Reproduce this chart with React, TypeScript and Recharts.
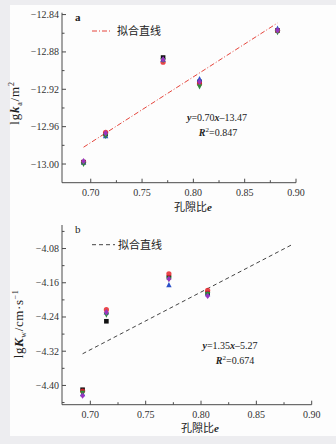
import React from "react";
import { ComposedChart, Scatter, XAxis, YAxis } from "recharts";

// panel a: lg k_a vs void ratio
const voidA = [0.693, 0.7145, 0.7705, 0.806, 0.882];
const kaSquare = [-12.998, -12.968, -12.886, -12.912, -12.857];
const kaCircle = [-12.998, -12.966, -12.891, -12.914, -12.857];
const kaUp = [-12.998, -12.97, -12.888, -12.909, -12.855];
const kaDown = [-13.0, -12.97, -12.889, -12.917, -12.859];
const kaDiamond = [-12.997, -12.967, -12.888, -12.912, -12.857];
const fitAx = [0.693, 0.882];
const fitAy = [-12.982, -12.849];

// panel b: lg K_w vs void ratio
const voidB = [0.693, 0.7145, 0.771, 0.806];
const kwSquare = [-4.41, -4.25, -4.147, -4.184];
const kwCircle = [-4.413, -4.223, -4.139, -4.178];
const kwUp = [-4.42, -4.229, -4.165, -4.186];
const kwDown = [-4.418, -4.235, -4.151, -4.187];
const kwDiamond = [-4.424, -4.229, -4.151, -4.191];
const fitBx = [0.693, 0.8814];
const fitBy = [-4.326, -4.072];

const xTicksA = [0.7, 0.725, 0.75, 0.775, 0.8, 0.825, 0.85, 0.875, 0.9];
const yTicksA = [-13.0, -12.98, -12.96, -12.94, -12.92, -12.9, -12.88, -12.86, -12.84];
const yTicksB = [-4.44, -4.4, -4.36, -4.32, -4.28, -4.24, -4.2, -4.16, -4.12, -4.08, -4.04];

const AXIS = "#4a4a4a";
const SERIF = "'Liberation Serif', 'DejaVu Serif', serif";
const CJK = "'Noto Sans CJK SC', sans-serif";

const kinds = [
  { kind: "square", color: "#111111" },
  { kind: "circle", color: "#e8262c" },
  { kind: "up", color: "#2a50c8" },
  { kind: "down", color: "#2f8a3c" },
  { kind: "diamond", color: "#9a35bf" },
];

const toPts = (xs: number[], ys: number[]) => xs.map((x, i) => ({ x, y: ys[i] }));

function Marker({ cx, cy, kind, color }: any) {
  const s = 2.3;
  if (cx == null || cy == null) return <g />;
  switch (kind) {
    case "square":
      return <rect x={cx - s} y={cy - s} width={2 * s} height={2 * s} fill={color} />;
    case "circle":
      return <circle cx={cx} cy={cy} r={s + 0.3} fill={color} fillOpacity={0.85} />;
    case "up":
      return <polygon points={`${cx},${cy - s - 0.7} ${cx - s - 0.4},${cy + s} ${cx + s + 0.4},${cy + s}`} fill={color} />;
    case "down":
      return <polygon points={`${cx},${cy + s + 0.7} ${cx - s - 0.4},${cy - s} ${cx + s + 0.4},${cy - s}`} fill={color} />;
    default:
      return <polygon points={`${cx},${cy - s - 0.8} ${cx + s},${cy} ${cx},${cy + s + 0.8} ${cx - s},${cy}`} fill={color} />;
  }
}

const isMajor = (v: number, step: number) => Math.abs(v / step - Math.round(v / step)) < 1e-6;

const XTick = (props: any) => {
  const { x, y, payload } = props;
  const v = payload.value;
  const major = isMajor(v, 0.05);
  return (
    <g>
      <line x1={x} x2={x} y1={y} y2={y - (major ? 4 : 2.5)} stroke={AXIS} />
      {major && (
        <text x={x} y={y + 13.5} textAnchor="middle" fontSize={10} fontFamily={SERIF} fill="#333">
          {v.toFixed(2)}
        </text>
      )}
    </g>
  );
};

const makeYTick = (step: number) => (props: any) => {
  const { x, y, payload } = props;
  const v = payload.value;
  const major = isMajor(v, step);
  return (
    <g>
      <line x1={x} x2={x + (major ? 4 : 2.5)} y1={y} y2={y} stroke={AXIS} />
      {major && (
        <text x={x - 3} y={y + 3.5} textAnchor="end" fontSize={10} fontFamily={SERIF} fill="#333">
          {v.toFixed(2).replace("-", "\u2212")}
        </text>
      )}
    </g>
  );
};

function Panel(props: {
  xs: number[];
  groups: number[][];
  fitX: number[];
  fitY: number[];
  xDomain: number[];
  yDomain: number[];
  yTicks: number[];
  yStep: number;
  margin: any;
  fitStroke: string;
  fitDash: string;
}) {
  const { xs, groups, fitX, fitY, xDomain, yDomain, yTicks, yStep, margin, fitStroke, fitDash } = props;
  return (
    <ComposedChart width={336} height={222} margin={margin}>
      <XAxis
        type="number"
        dataKey="x"
        domain={xDomain}
        ticks={xTicksA}
        interval={0}
        allowDataOverflow
        height={30}
        tickSize={0}
        tickMargin={0}
        tick={<XTick />}
        axisLine={{ stroke: AXIS }}
      />
      <YAxis
        type="number"
        dataKey="y"
        domain={yDomain}
        ticks={yTicks}
        interval={0}
        allowDataOverflow
        width={52}
        tickSize={0}
        tickMargin={0}
        tick={makeYTick(yStep)}
        axisLine={{ stroke: AXIS }}
      />
      <Scatter
        data={toPts(fitX, fitY)}
        line={{ stroke: fitStroke, strokeWidth: 1, strokeDasharray: fitDash }}
        shape={() => <g />}
        isAnimationActive={false}
      />
      {groups.map((ys, i) => (
        <Scatter
          key={i}
          data={toPts(xs, ys)}
          isAnimationActive={false}
          shape={(p: any) => <Marker cx={p.cx} cy={p.cy} kind={kinds[i].kind} color={kinds[i].color} />}
        />
      ))}
    </ComposedChart>
  );
}

export default function App() {
  return (
    <div style={{ position: "absolute", left: 0, top: 0, width: 336, height: 444, background: "#ededf0" }}>
      <div style={{ position: "absolute", left: 10, top: 5, width: 326, height: 431, background: "#fdfdfd" }} />
      <div style={{ position: "absolute", left: 0, top: 0 }}>
        <Panel
          xs={voidA}
          groups={[kaSquare, kaCircle, kaUp, kaDown, kaDiamond]}
          fitX={fitAx}
          fitY={fitAy}
          xDomain={[0.672, 0.9]}
          yDomain={[-13.02, -12.838]}
          yTicks={yTicksA}
          yStep={0.04}
          margin={{ top: 12.7, right: 40, bottom: 9.3, left: 10 }}
          fitStroke="#e5453c"
          fitDash="5 2 1 2"
        />
      </div>
      <div style={{ position: "absolute", left: 0, top: 222 }}>
        <Panel
          xs={voidB}
          groups={[kwSquare, kwCircle, kwUp, kwDown, kwDiamond]}
          fitX={fitBx}
          fitY={fitBy}
          xDomain={[0.6744, 0.9]}
          yDomain={[-4.445, -4.025]}
          yTicks={yTicksB}
          yStep={0.08}
          margin={{ top: 3, right: 24.3, bottom: 9.3, left: 10 }}
          fitStroke="#444"
          fitDash="4 3"
        />
      </div>
      <svg width={336} height={444} style={{ position: "absolute", left: 0, top: 0, pointerEvents: "none" }}>
        <g fontFamily={SERIF} fill="#222">
          {/* panel a */}
          <text x={75} y={21} fontSize={11} fontWeight="bold">a</text>
          <line x1={92} x2={110} y1={31} y2={31} stroke="#e5453c" strokeDasharray="5 2 1 2" />
          <text x={117} y={35} fontSize={11} fontFamily={CJK}>拟合直线</text>
          <text x={217} y={120.5} fontSize={10} textAnchor="middle">
            <tspan fontStyle="italic" fontWeight="bold">y</tspan>=0.70<tspan fontStyle="italic" fontWeight="bold">x</tspan>–13.47
          </text>
          <text x={218} y={135.5} fontSize={10} textAnchor="middle">
            <tspan fontStyle="italic" fontWeight="bold">R</tspan><tspan fontSize={7} dy={-4}>2</tspan><tspan dy={4}>=0.847</tspan>
          </text>
          <text transform="translate(19,103) rotate(-90)" fontSize={13} letterSpacing={0.8} textAnchor="middle">
            lg<tspan fontStyle="italic" fontWeight="bold">k</tspan><tspan fontSize={8} dy={3}>a</tspan><tspan dy={-3}>/m</tspan><tspan fontSize={8} dy={-5}>2</tspan>
          </text>
          <text x={193} y={211} fontSize={11} textAnchor="middle">
            <tspan fontFamily={CJK}>孔隙比</tspan><tspan fontStyle="italic" fontWeight="bold">e</tspan>
          </text>

          {/* panel b */}
          <text x={75} y={233} fontSize={11}>b</text>
          <line x1={92} x2={115} y1={244.7} y2={244.7} stroke="#444" strokeDasharray="4 3" />
          <text x={118} y={248.7} fontSize={11} fontFamily={CJK}>拟合直线</text>
          <text x={230} y={349} fontSize={10} textAnchor="middle">
            <tspan fontStyle="italic" fontWeight="bold">y</tspan>=1.35<tspan fontStyle="italic" fontWeight="bold">x</tspan>–5.27
          </text>
          <text x={235} y={364} fontSize={10} textAnchor="middle">
            <tspan fontStyle="italic" fontWeight="bold">R</tspan><tspan fontSize={7} dy={-4}>2</tspan><tspan dy={4}>=0.674</tspan>
          </text>
          <text transform="translate(23,324) rotate(-90)" fontSize={13} letterSpacing={0.6} textAnchor="middle">
            lg<tspan fontStyle="italic" fontWeight="bold">K</tspan><tspan fontSize={8} dy={3}>w</tspan><tspan dy={-3}>/cm·s</tspan><tspan fontSize={8} dy={-5}>−1</tspan>
          </text>
          <text x={200} y={432} fontSize={11} textAnchor="middle">
            <tspan fontFamily={CJK}>孔隙比</tspan><tspan fontStyle="italic" fontWeight="bold">e</tspan>
          </text>
        </g>
      </svg>
    </div>
  );
}
